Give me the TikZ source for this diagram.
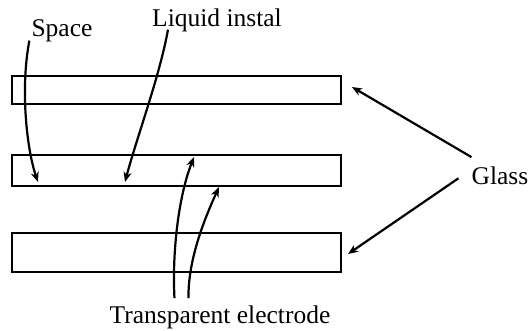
\documentclass[tikz,border=0pt]{standalone}
\usepackage{fontspec}
\setmainfont{Liberation Serif}
\usetikzlibrary{arrows.meta, positioning}

\begin{document}
\begin{tikzpicture}[
    x=1pt, y=-1pt,
    plate/.style={rectangle, draw=black, line width=2.6pt, minimum width=329pt, inner sep=0pt},
    lbl/.style={font=\fontsize{25.5}{30}\selectfont, inner sep=0pt, anchor=base},
    arrow/.style={-{Stealth[length=10pt, width=8pt, inset=3pt]}, line width=2.2pt, draw=black}
]
\useasboundingbox (0,0) rectangle (531,331);

% Glass plates
\node[plate, minimum height=28pt] (glass_top) at (176.5,90) {};
\node[plate, minimum height=31pt] (glass_mid) at (176.5,170.5) {};
\node[plate, minimum height=39pt] (glass_bot) at (176.5,252.5) {};

% Labels
\node[lbl] (space) at (62,37) {Space};
\node[lbl] (liquid) at (217,27) {Liquid instal};
\node[lbl] (glass) at (500,185) {Glass};
\node[lbl] (electrode) at (220,324) {Transparent electrode};

% Arrow targets
\coordinate (space_pt) at (38,182);
\coordinate (liquid_pt) at (125,182);
\coordinate (elec_a) at (194,157);
\coordinate (elec_b) at (219,187);
\coordinate (glass_a) at (352,87);
\coordinate (glass_b) at (348,254);

% Arrows
\draw[arrow] ([xshift=-2pt,yshift=2pt]space.south west) .. controls (20,90) and (27,150) .. (space_pt);
\draw[arrow] ([xshift=16pt,yshift=3pt]liquid.south west) .. controls (160,75) and (136,140) .. (liquid_pt);
\draw[arrow] ([xshift=65pt,yshift=8pt]electrode.north west) .. controls (172,250) and (179,195) .. (elec_a);
\draw[arrow] ([xshift=79pt,yshift=8pt]electrode.north west) .. controls (188,260) and (204,220) .. (elec_b);
\draw[arrow] ([yshift=10pt]glass.north west) -- (glass_a);
\draw[arrow] ([xshift=-13pt,yshift=-2pt]glass.west) -- (glass_b);

\end{tikzpicture}
\end{document}
